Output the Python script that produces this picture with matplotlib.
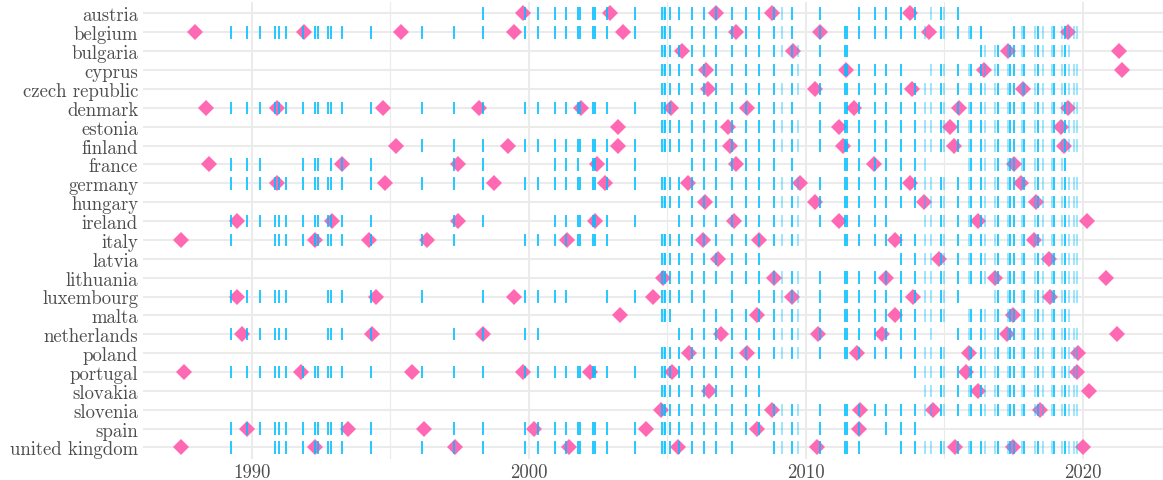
import numpy as np
import matplotlib.pyplot as plt

countries = ['austria', 'belgium', 'bulgaria', 'cyprus', 'czech republic', 'denmark',
             'estonia', 'finland', 'france', 'germany', 'hungary', 'ireland', 'italy',
             'latvia', 'lithuania', 'luxembourg', 'malta', 'netherlands', 'poland',
             'portugal', 'slovakia', 'slovenia', 'spain', 'united kingdom']

# survey fieldwork dates (decimal years)
survey_waves = [1989.24, 1989.84, 1990.29, 1990.84, 1990.98, 1991.23, 1991.86, 1992.30,
                1992.38, 1992.77, 1992.88, 1993.25, 1994.30, 1996.15, 1997.32, 1998.34,
                1999.86, 2000.33, 2000.94, 2001.36, 2001.80, 2001.87, 2002.32, 2002.40,
                2002.84, 2003.84,
                2004.82, 2004.88, 2004.94, 2005.12, 2005.44, 2005.88, 2006.32, 2006.78,
                2007.34, 2007.83, 2008.32, 2008.85, 2009.15, 2009.49, 2009.74, 2010.52,
                2011.42, 2011.48, 2011.93, 2012.50, 2012.91, 2013.45, 2013.93, 2014.31,
                2014.53, 2014.89, 2014.98, 2015.49, 2015.89, 2015.97, 2016.34, 2016.46,
                2016.82, 2016.94, 2017.31, 2017.39, 2017.53, 2017.81, 2017.90, 2018.29,
                2018.38, 2018.56, 2018.90, 2018.98, 2019.26, 2019.38, 2019.50, 2019.68,
                2019.80]

# waves that show up lighter (single survey)
faint_waves = [2004.88, 2009.15, 2009.74, 2014.31, 2014.53, 2014.98, 2015.89, 2016.46,
               2016.82, 2017.31, 2017.81, 2018.29, 2018.56, 2018.90, 2019.26, 2019.50,
               2019.68, 2019.80]

# periods in which each country is in the survey
participation = {
    'austria': [(1998.3, 2015.5)],
    'belgium': [(1989.0, 2019.85)],
    'bulgaria': [(2004.8, 2011.5), (2016.3, 2019.55)],
    'cyprus': [(2004.8, 2019.85)],
    'czech republic': [(2004.8, 2019.85)],
    'denmark': [(1989.0, 2019.85)],
    'estonia': [(2004.8, 2019.85)],
    'finland': [(1996.0, 2019.85)],
    'france': [(1989.0, 2004.0), (2005.8, 2009.5), (2011.4, 2014.35), (2015.85, 2019.45)],
    'germany': [(1989.0, 2019.85)],
    'hungary': [(2004.8, 2019.85)],
    'ireland': [(1989.0, 2004.0), (2005.4, 2019.85)],
    'italy': [(1989.0, 2019.85)],
    'latvia': [(2004.8, 2008.35), (2013.4, 2019.85)],
    'lithuania': [(2004.8, 2019.85)],
    'luxembourg': [(1989.0, 2019.85)],
    'malta': [(2004.8, 2019.55)],
    'netherlands': [(1989.0, 2000.4), (2005.4, 2019.85)],
    'poland': [(2004.8, 2019.85)],
    'portugal': [(1989.0, 2008.35), (2013.9, 2019.85)],
    'slovakia': [(2004.8, 2008.35), (2014.3, 2019.85)],
    'slovenia': [(2004.8, 2019.85)],
    'spain': [(1989.0, 2013.95)],
    'united kingdom': [(1989.0, 2019.85)],
}

# waves missed inside those periods
missed = {
    'austria': [2009.74, 2011.42, 2011.48, 2014.31],
    'belgium': [2005.44, 2009.74, 2014.53, 2016.46, 2016.82, 2016.94, 2017.31, 2017.39],
    'cyprus': [2009.15, 2013.93, 2014.31],
    'denmark': [2005.44, 2009.74],
    'france': [1990.84, 1990.98, 1991.23, 1992.77, 1996.15, 1999.86, 2000.33, 2001.87, 2009.15],
    'ireland': [1996.15, 1999.86, 2000.33, 2013.45, 2013.93],
    'italy': [1989.84, 1990.29, 1998.34, 2003.84, 2010.52],
    'luxembourg': [1991.86, 1992.30, 1992.38, 1997.32, 2001.80, 2001.87, 2002.32, 2002.40,
                   2006.78, 2007.83, 2015.89, 2015.97, 2016.34, 2016.46],
    'malta': [2005.44, 2005.88, 2015.49],
    'netherlands': [1991.86, 1992.30, 1992.38, 1996.15, 2014.31, 2014.89, 2014.98],
    'poland': [2015.49],
    'spain': [1996.15, 2012.50],
    'united kingdom': [1989.84, 1990.29, 2007.83, 2008.32, 2012.50, 2012.91],
}

# national election dates
elections = {
    'austria': [1999.79, 2002.92, 2006.78, 2008.77, 2013.77],
    'belgium': [1987.95, 1991.89, 1995.41, 1999.46, 2003.41, 2007.50, 2010.52, 2014.47, 2019.48],
    'bulgaria': [2005.55, 2009.53, 2017.31, 2021.31],
    'cyprus': [2006.42, 2011.45, 2016.43, 2021.43],
    'czech republic': [2006.46, 2010.34, 2013.83, 2017.84],
    'denmark': [1988.37, 1990.93, 1994.75, 1998.22, 2001.90, 2005.15, 2007.90, 2011.76,
                2015.52, 2019.48],
    'estonia': [2003.22, 2007.20, 2011.20, 2015.22, 2019.23],
    'finland': [1995.23, 1999.25, 2003.22, 2007.26, 2011.36, 2015.34, 2019.32],
    'france': [1988.46, 1993.25, 1997.44, 2002.48, 2007.50, 2012.48, 2017.51],
    'germany': [1990.93, 1994.81, 1998.76, 2002.74, 2005.76, 2009.80, 2013.77, 2017.79],
    'hungary': [2006.36, 2010.34, 2014.29, 2018.33],
    'ireland': [1989.48, 1992.92, 1997.46, 2002.40, 2007.42, 2011.20, 2016.22, 2020.16],
    'italy': [1987.46, 1992.28, 1994.24, 1996.33, 2001.39, 2006.30, 2008.31, 2013.21, 2018.23],
    'latvia': [2006.82, 2014.80, 2018.80],
    'lithuania': [2004.85, 2008.87, 2012.89, 2016.85, 2020.86],
    'luxembourg': [1989.48, 1994.48, 1999.49, 2004.49, 2009.49, 2013.86, 2018.83],
    'malta': [2003.31, 2008.23, 2013.23, 2017.49],
    'netherlands': [1989.66, 1994.33, 1998.34, 2006.94, 2010.46, 2012.75, 2017.27, 2021.25],
    'poland': [2005.78, 2007.87, 2011.86, 2015.89, 2019.84],
    'portugal': [1987.55, 1991.77, 1995.78, 1999.79, 2002.20, 2005.18, 2015.79, 2019.78],
    'slovakia': [2006.51, 2016.22, 2020.22],
    'slovenia': [2004.79, 2008.77, 2011.96, 2014.58, 2018.47],
    'spain': [1989.84, 1993.48, 1996.21, 2000.21, 2004.25, 2008.23, 2011.93],
    'united kingdom': [1987.46, 1992.28, 1997.36, 2001.45, 2005.39, 2010.40, 2015.38,
                       2017.49, 2020.00],
}

survey_color = '#00BFFF'
election_color = '#FF69B4'
text_color = '#4D4D4D'
grid_color = '#EBEBEB'

fig = plt.figure(figsize=(11.63, 4.81), dpi=100)
ax = fig.add_axes([143 / 1163, 0.0441, 1 - 143 / 1163, 0.9493])

for i, c in enumerate(countries):
    # elections sit below the survey ticks
    ax.plot(elections[c], [i] * len(elections[c]), linestyle='none', marker='D',
            markersize=7.8, color=election_color, markeredgewidth=0, zorder=2)
    skip = set(missed.get(c, []))
    dark, light = [], []
    for w in survey_waves:
        if w in skip:
            continue
        if not any(a <= w <= b for a, b in participation[c]):
            continue
        (light if w in faint_waves else dark).append(w)
    ax.vlines(dark, i - 0.33, i + 0.33, color=survey_color, lw=1.2, zorder=3)
    ax.vlines(light, i - 0.33, i + 0.33, color=survey_color, lw=1.2, alpha=0.45, zorder=3)

ax.set_xlim(1986.08, 2022.90)
ax.set_ylim(len(countries) - 0.4, -0.6)
ax.set_yticks(range(len(countries)))
ax.set_yticklabels(countries)
ax.set_xticks([1990, 2000, 2010, 2020])
ax.set_xticks([1995, 2005, 2015], minor=True)

for s in ax.spines.values():
    s.set_visible(False)
ax.set_axisbelow(True)
ax.grid(True, which='major', color=grid_color, lw=1.5)
ax.grid(True, which='minor', axis='x', color=grid_color, lw=0.8)
ax.tick_params(which='both', length=0)
ax.tick_params(axis='y', pad=3.5)
ax.tick_params(axis='x', pad=3)
for lab in ax.get_xticklabels() + ax.get_yticklabels():
    lab.set_fontfamily('cmr10')
    lab.set_fontsize(13.5)
    lab.set_color(text_color)

fig.savefig('out.png', dpi=100)
